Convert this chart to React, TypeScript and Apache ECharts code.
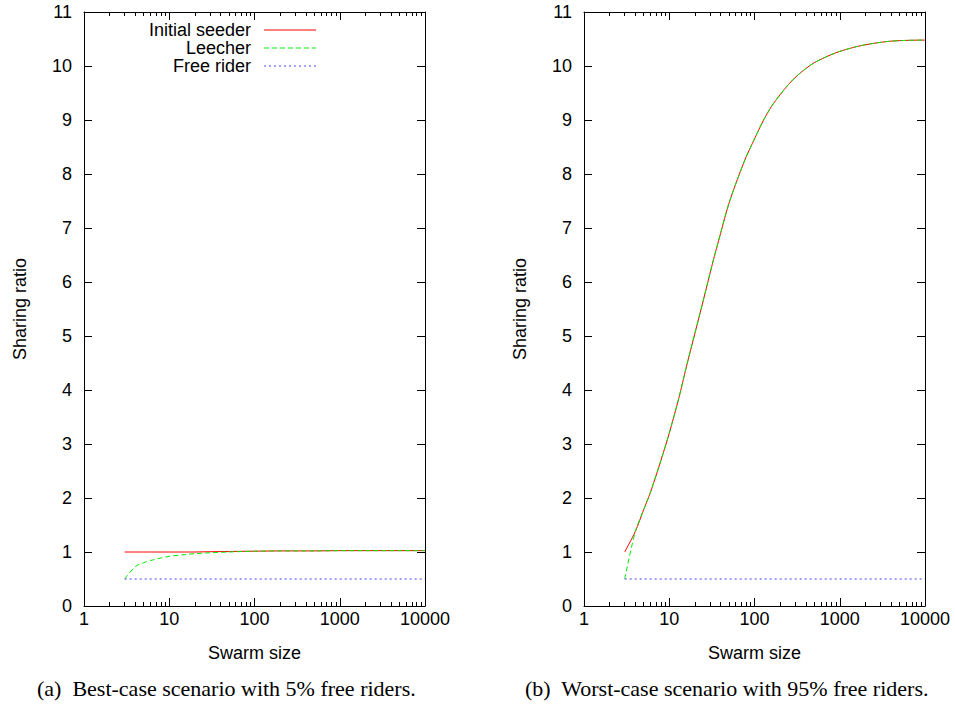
import React, { useEffect, useRef } from "react";
import * as echarts from "echarts";

// ---- data ----
const seriesNames = ["Initial seeder", "Leecher", "Free rider"];
const xMajorTicks = [1, 10, 100, 1000, 10000];
const xMinorTicks = [
  2, 3, 4, 5, 6, 7, 8, 9,
  20, 30, 40, 50, 60, 70, 80, 90,
  200, 300, 400, 500, 600, 700, 800, 900,
  2000, 3000, 4000, 5000, 6000, 7000, 8000, 9000,
];

// (a) best case, 5% free riders
const bestX = [3, 4, 5, 6, 8, 10, 15, 20, 30, 50, 100, 200, 500, 1000, 2000, 5000, 10000];
const bestSeeder = [1.0, 1.0, 1.0, 1.0, 1.0, 1.0, 1.0, 1.0, 1.005, 1.01, 1.015, 1.02, 1.02, 1.025, 1.025, 1.025, 1.025];
const bestLeecher = [0.5, 0.73, 0.8, 0.84, 0.89, 0.92, 0.95, 0.97, 0.985, 1.0, 1.015, 1.02, 1.02, 1.025, 1.025, 1.025, 1.025];
const bestFreeX = [3, 10000];
const bestFree = [0.5, 0.5];

// (b) worst case, 95% free riders
const worstX = [3, 4, 5, 6, 8, 10, 13, 16, 20, 25, 32, 40, 50, 63, 79, 100, 126, 158, 200, 251, 316, 398, 501, 631, 794, 1000, 1585, 2512, 3981, 6310, 10000];
const worstSeeder = [1.0, 1.38, 1.78, 2.1, 2.7, 3.2, 3.86, 4.45, 5.05, 5.65, 6.33, 6.9, 7.45, 7.9, 8.3, 8.65, 8.98, 9.25, 9.47, 9.66, 9.82, 9.95, 10.06, 10.14, 10.21, 10.27, 10.36, 10.42, 10.46, 10.475, 10.48];
const worstLeecher = [0.5, 1.38, 1.78, 2.1, 2.7, 3.2, 3.86, 4.45, 5.05, 5.65, 6.33, 6.9, 7.45, 7.9, 8.3, 8.65, 8.98, 9.25, 9.47, 9.66, 9.82, 9.95, 10.06, 10.14, 10.21, 10.27, 10.36, 10.42, 10.46, 10.475, 10.48];
const worstFreeX = [3, 10000];
const worstFree = [0.5, 0.5];

const captions = [
  "(a)  Best-case scenario with 5% free riders.",
  "(b)  Worst-case scenario with 95% free riders.",
];

const zip = (xs: number[], ys: number[]) => xs.map((x, i) => [x, ys[i]]);

const FONT = "Liberation Sans, Arial, sans-serif";
const SERIF = "Liberation Serif, Times New Roman, serif";
const lineColors = ["#ff0000", "#00ee00", "#4444ff"];
const lineTypes: any[] = ["solid", [5, 3], [2, 3]];

export default function App() {
  const ref = useRef<HTMLDivElement>(null);
  useEffect(() => {
    if (!ref.current) return;
    const chart = echarts.init(ref.current, undefined, { renderer: "svg" });

    const grids = [
      { left: 84, top: 12, width: 341, height: 594 },
      { left: 584, top: 12, width: 341, height: 594 },
    ];

    const axisLine = { show: true, lineStyle: { color: "#000", width: 1 } };
    const xAxes: any[] = [];
    const yAxes: any[] = [];
    grids.forEach((_, g) => {
      const base = {
        type: "log",
        logBase: 10,
        min: 1,
        max: 10000,
        gridIndex: g,
        splitLine: { show: false },
        minorTick: { show: false },
      };
      xAxes.push({
        ...base,
        position: "bottom",
        axisLine,
        axisTick: { show: true, inside: true, length: 8, customValues: xMajorTicks, lineStyle: { color: "#000" } },
        axisLabel: {
          show: true,
          customValues: xMajorTicks,
          formatter: (v: number) => String(v),
          color: "#000",
          fontFamily: FONT,
          fontSize: 18,
          margin: 4,
        },
        name: "Swarm size",
        nameLocation: "middle",
        nameGap: 38,
        nameTextStyle: { color: "#000", fontFamily: FONT, fontSize: 18 },
      });
      xAxes.push({
        ...base,
        position: "bottom",
        axisLine: { show: false },
        axisTick: { show: true, inside: true, length: 4, customValues: xMinorTicks, lineStyle: { color: "#000" } },
        axisLabel: { show: false },
      });
      xAxes.push({
        ...base,
        position: "top",
        axisLine,
        axisTick: { show: true, inside: true, length: 8, customValues: xMajorTicks, lineStyle: { color: "#000" } },
        axisLabel: { show: false },
      });
      xAxes.push({
        ...base,
        position: "top",
        axisLine: { show: false },
        axisTick: { show: true, inside: true, length: 4, customValues: xMinorTicks, lineStyle: { color: "#000" } },
        axisLabel: { show: false },
      });
      const ybase = {
        type: "value",
        min: 0,
        max: 11,
        interval: 1,
        gridIndex: g,
        splitLine: { show: false },
        axisLine,
        axisTick: { show: true, inside: true, length: 8, lineStyle: { color: "#000" } },
      };
      yAxes.push({
        ...ybase,
        position: "left",
        axisLabel: { color: "#000", fontFamily: FONT, fontSize: 18, margin: 12 },
        name: "Sharing ratio",
        nameLocation: "middle",
        nameGap: 55,
        nameTextStyle: { color: "#000", fontFamily: FONT, fontSize: 18 },
      });
      yAxes.push({
        ...ybase,
        position: "right",
        axisLabel: { show: false },
      });
    });

    const mk = (name: string, idx: number, g: number, data: number[][], smooth: any = false) => ({
      name,
      type: "line",
      xAxisIndex: g * 4,
      yAxisIndex: g * 2,
      data,
      symbol: "none",
      showSymbol: false,
      smooth,
      lineStyle: { color: lineColors[idx], width: 1, type: lineTypes[idx] },
      itemStyle: { color: lineColors[idx] },
      z: 2 + idx,
    });

    const series = [
      mk(seriesNames[0], 0, 0, zip(bestX, bestSeeder)),
      mk(seriesNames[1], 1, 0, zip(bestX, bestLeecher), 0.3),
      mk(seriesNames[2], 2, 0, zip(bestFreeX, bestFree)),
      mk(seriesNames[0], 0, 1, zip(worstX, worstSeeder), 0.3),
      mk(seriesNames[1], 1, 1, zip(worstX, worstLeecher), 0.3),
      mk(seriesNames[2], 2, 1, zip(worstFreeX, worstFree)),
    ];

    const legendRows = [30, 48, 66];
    const legendGraphics: any[] = [];
    seriesNames.forEach((n, i) => {
      legendGraphics.push({
        type: "text",
        x: 251,
        y: legendRows[i],
        style: {
          text: n,
          fill: "#000",
          font: `18px ${FONT}`,
          align: "right",
          verticalAlign: "middle",
        },
      });
      legendGraphics.push({
        type: "line",
        shape: { x1: 264, y1: legendRows[i], x2: 316, y2: legendRows[i] },
        style: { stroke: lineColors[i], lineWidth: 1, lineDash: i === 0 ? null : lineTypes[i] },
      });
    });

    chart.setOption({
      animation: false,
      backgroundColor: "#fff",
      grid: grids,
      xAxis: xAxes,
      yAxis: yAxes,
      series,
      graphic: legendGraphics,
      title: [
        {
          text: captions[0],
          left: 37,
          top: 677,
          padding: 0,
          textStyle: { fontFamily: SERIF, fontSize: 22, fontWeight: "normal", color: "#000" },
        },
        {
          text: captions[1],
          left: 525,
          top: 677,
          padding: 0,
          textStyle: { fontFamily: SERIF, fontSize: 22, fontWeight: "normal", color: "#000" },
        },
      ],
    });
    return () => chart.dispose();
  }, []);
  return (
    <div
      ref={ref}
      style={{ position: "fixed", left: 0, top: 0, width: 955, height: 709, background: "#fff" }}
    />
  );
}
